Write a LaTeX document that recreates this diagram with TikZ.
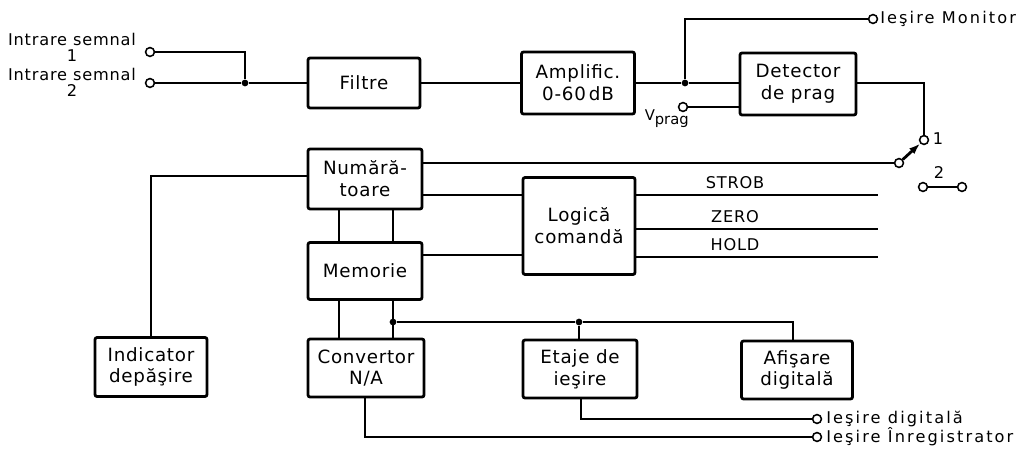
\documentclass[tikz,border=0pt]{standalone}
\usepackage{fontspec}
\setmainfont{DejaVu Sans}
\usepackage{tikz}
\usetikzlibrary{arrows.meta,calc}
\newlength{\pu}
\setlength{\pu}{0.025cm}
\tikzset{
  blk/.style 2 args={draw,rounded corners=1.5pt,line width=2pt,align=center,inner sep=0pt,minimum width=#1\pu,minimum height=#2\pu,font=\fontsize{13}{15.5}\selectfont\addfontfeature{LetterSpace=4}},
  wire/.style={line width=1.6pt},
  term/.style={circle,draw,fill=white,line width=1.1pt,inner sep=0pt,minimum size=6.3pt},
  dot/.style={circle,fill,inner sep=0pt,minimum size=4.8pt},
  lbl/.style={inner sep=0pt,font=\fontsize{11.5}{11.3}\selectfont\addfontfeature{LetterSpace=5}},
  outlbl/.style={lbl,anchor=west,font=\fontsize{11.5}{11.3}\selectfont\addfontfeature{LetterSpace=13}},
}

\begin{document}
\begin{tikzpicture}[x=1\pu,y=-1\pu]
 \useasboundingbox (0,0) rectangle (1024,452);
 % top row
 \node[term] (in1) at (150,52) {};
 \node[term] (in2) at (150,83) {};
 \node[lbl,align=center] (tin1) at (72,47) {Intrare semnal\\1};
 \node[lbl,align=center] (tin2) at (72,82) {Intrare semnal\\2};
 \node[dot] (j0) at (245,83) {};
 \node[blk={112}{50}] (filt) at (364,83) {Filtre};
 \node[blk={113}{62}] (ampl) at (578,83) {Amplific.\\0-60\,dB};
 \node[dot] (jm) at (685,83) {};
 \node[blk={116}{62}] (det) at (798,84) {Detector\\de prag};
 \node[term] (mon) at (873,19) {};
 \node[outlbl] (tmon) at (880,19) {Ieşire Monitor};
 \node[term] (vp) at (683,107) {};
 \node[inner sep=0pt,anchor=north east,font=\fontsize{10.5}{11}\selectfont] (tvp) at (689,109) {V\raisebox{-3.5pt}{prag}};
 % switch
 \node[term] (c1) at (924,140) {};
 \node[term] (pole) at (899,163) {};
 \node[term] (c2a) at (923,187) {};
 \node[term] (c2b) at (962,187) {};
 \node[lbl] (t1) at (938,139) {1};
 \node[lbl] (t2) at (939,172) {2};
 % middle and bottom
 \node[blk={114}{60}] (num) at (365,179) {Numără-\\toare};
 \node[blk={114}{57}] (mem) at (365,271) {Memorie};
 \node[blk={112}{97}] (log) at (579,226) {Logică\\comandă};
 \node[blk={112}{59}] (ind) at (151,367) {Indicator\\depăşire};
 \node[blk={116}{58}] (conv) at (366,368) {Convertor\\N/A};
 \node[blk={114}{58}] (etaj) at (580,369) {Etaje de\\ieşire};
 \node[blk={111}{58}] (afis) at (797,370) {Afişare\\digitală};
 \node[dot] (jd) at (393,322) {};
 \node[dot] (je) at (579,322) {};
 \node[term] (odig) at (817,419) {};
 \node[term] (oreg) at (817,437) {};
 \node[outlbl] (tdig) at (826,419) {Ieşire digitală};
 \node[outlbl] (treg) at (826,437) {Ieşire Înregistrator};

 \draw[wire] (in1) -| (j0);
 \draw[wire] (in2) -- (j0) -- (filt);
 \draw[wire] (filt) -- (ampl);
 \draw[wire] (ampl) -- (jm) -- (det.west |- jm);
 \draw[wire] (jm) |- (mon);
 \draw[wire] (vp) -- (det.west |- vp);
 \draw[wire] (det.east |- jm) -| (c1);
 \draw[wire,line width=2pt,-{Latex[length=8pt,width=5.5pt]}] (pole) -- (c1);
 \draw[wire] (c2a) -- (c2b);
 \draw[wire] (num.east |- pole) -- (pole);
 \draw[wire] (num.west |- 0,176) -| (ind);
 \draw[wire] (num.east |- 0,195) -- (log.west |- 0,195);
 \draw[wire] (mem.east |- 0,255) -- (log.west |- 0,255);
 \foreach \y/\t in {195/STROB,229/ZERO,257/HOLD}{
   \coordinate (o\t) at (878,\y);
   \draw[wire] (log.east |- o\t) -- (o\t);
   \node[lbl] (l\t) at (735,{\y-12}) {\t};
 }
 \foreach \x in {339,393}{
   \draw[wire] (num.south -| \x,0) -- (mem.north -| \x,0);
   \draw[wire] (mem.south -| \x,0) -- (conv.north -| \x,0);
 }
 \draw[wire] (jd) -- (je) -| (afis.north -| 793,0);
 \draw[wire] (je) -- (etaj.north -| je);
 \draw[wire] (etaj.south -| 581,0) |- (odig);
 \draw[wire] (conv.south -| 365,0) |- (oreg);
\end{tikzpicture}
\end{document}
